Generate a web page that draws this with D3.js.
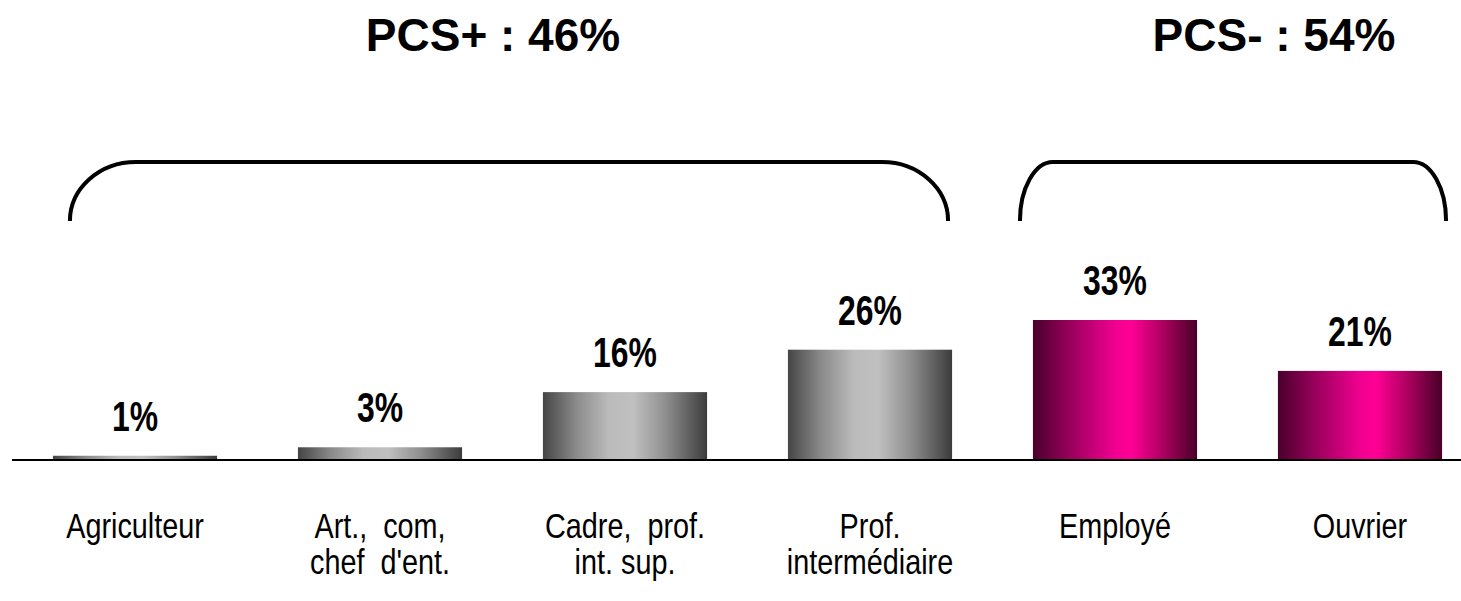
<!DOCTYPE html>
<html>
<head>
<meta charset="utf-8">
<script src="https://cdn.jsdelivr.net/npm/d3@7"></script>
<style>
  body { margin: 0; background: #fff; }
  svg { display: block; font-family: "Liberation Sans", Arial, sans-serif; }
</style>
</head>
<body>
<script>
// data
const categories = ["Agriculteur", "Art., com, chef d'ent.", "Cadre, prof. int. sup.", "Prof. intermédiaire", "Employé", "Ouvrier"];
const labelLines = [["Agriculteur"], ["Art.,  com,", "chef  d'ent."], ["Cadre,  prof.", "int. sup."], ["Prof.", "intermédiaire"], ["Employé"], ["Ouvrier"]];
const values = [1, 3, 16, 26, 33, 21];
const groupOf = ["PCS+", "PCS+", "PCS+", "PCS+", "PCS-", "PCS-"];
const groupNames = ["PCS+", "PCS-"];
const groupTotals = [46, 54];

const W = 1461, H = 601;
const baseY = 460;

const svg = d3.select("body").append("svg")
  .attr("width", W)
  .attr("height", H);

// gradients for the bars
const defs = svg.append("defs");
function gradient(id, stops) {
  const g = defs.append("linearGradient").attr("id", id)
    .attr("x1", "0%").attr("x2", "100%").attr("y1", "0%").attr("y2", "0%");
  stops.forEach(s => g.append("stop").attr("offset", s[0]).attr("stop-color", s[1]));
}
gradient("grey", [[0, "#454545"], [0.2, "#8a8a8a"], [0.4, "#bbbbbb"], [0.55, "#c0c0c0"], [0.75, "#8e8e8e"], [1, "#3c3c3c"]]);
gradient("pink", [[0, "#4a002c"], [0.25, "#a00060"], [0.5, "#f00090"], [0.6, "#ff0094"], [0.8, "#a8005e"], [1, "#470027"]]);

const x = d3.scaleBand()
  .domain(categories)
  .range([12.5, 1482.5])
  .paddingInner(0.33)
  .paddingOuter(0.165);

const y = d3.scaleLinear().domain([0, 33]).range([baseY, 320]);

// bars
svg.selectAll("rect.bar")
  .data(values)
  .join("rect")
  .attr("class", "bar")
  .attr("x", (d, i) => x(categories[i]))
  .attr("y", d => y(d))
  .attr("width", x.bandwidth())
  .attr("height", d => y(0) - y(d))
  .attr("fill", (d, i) => groupOf[i] === "PCS+" ? "url(#grey)" : "url(#pink)");

// baseline
svg.append("line")
  .attr("x1", 12).attr("x2", W)
  .attr("y1", y(0)).attr("y2", y(0))
  .attr("stroke", "#000")
  .attr("stroke-width", 2);

// value labels (condensed bold)
svg.selectAll("text.val")
  .data(values)
  .join("text")
  .attr("class", "val")
  .attr("transform", (d, i) => `translate(${x(categories[i]) + x.bandwidth() / 2},${y(d) - 25}) scale(0.76,1)`)
  .attr("text-anchor", "middle")
  .attr("font-size", 42)
  .attr("font-weight", "bold")
  .text(d => d + "%");

// category labels (condensed regular)
const cat = svg.selectAll("g.cat")
  .data(labelLines)
  .join("g")
  .attr("class", "cat")
  .attr("transform", (d, i) => `translate(${x(categories[i]) + x.bandwidth() / 2},538) scale(0.8,1)`);
cat.selectAll("text")
  .data(d => d)
  .join("text")
  .attr("y", (d, j) => j * 36)
  .attr("text-anchor", "middle")
  .attr("font-size", 36)
  .attr("xml:space", "preserve")
  .style("white-space", "pre")
  .text(d => d);

// brackets over each group
const bracketTop = 162, bracketBottom = 221;
const bracketLayout = [
  { x0: x(categories[0]) + 17, x1: x(categories[3]) + x.bandwidth() - 4, r: 66 },
  { x0: x(categories[4]) - 13, x1: x(categories[5]) + x.bandwidth() + 4, r: 33 }
];
svg.selectAll("path.bracket")
  .data(bracketLayout)
  .join("path")
  .attr("class", "bracket")
  .attr("fill", "none")
  .attr("stroke", "#000")
  .attr("stroke-width", 4)
  .attr("d", b => {
    const ry = bracketBottom - bracketTop;
    return `M${b.x0},${bracketBottom} A${b.r},${ry} 0 0 1 ${b.x0 + b.r},${bracketTop}` +
      ` L${b.x1 - b.r},${bracketTop} A${b.r},${ry} 0 0 1 ${b.x1},${bracketBottom}`;
  });

// group titles
const titleX = [493, 1274];
svg.selectAll("text.title")
  .data(groupNames)
  .join("text")
  .attr("class", "title")
  .attr("x", (d, i) => titleX[i])
  .attr("y", 51)
  .attr("text-anchor", "middle")
  .attr("font-size", 46)
  .attr("font-weight", "bold")
  .text((d, i) => `${d} : ${groupTotals[i]}%`);
</script>
</body>
</html>
